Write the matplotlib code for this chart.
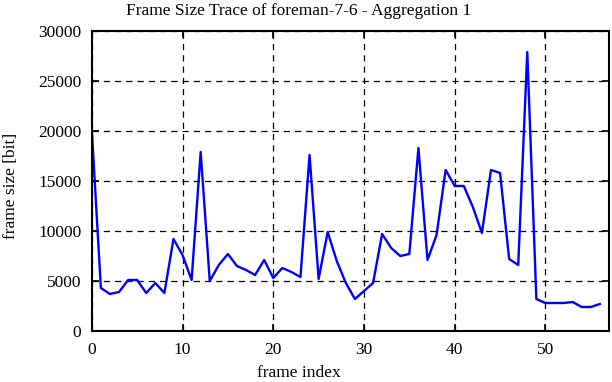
import matplotlib
matplotlib.use("Agg")
import matplotlib.pyplot as plt

frame_index = list(range(57))
frame_size = [20100, 4300, 3700, 3900, 5100, 5100, 3800, 4800, 3800, 9200,
              7600, 5100, 17900, 5000, 6600, 7700, 6500, 6100, 5600, 7100,
              5300, 6300, 5900, 5400, 17600, 5200, 9900, 7000, 4800, 3200,
              4000, 4800, 9700, 8300, 7500, 7700, 18300, 7100, 9600, 16100,
              14500, 14500, 12400, 9800, 16100, 15800, 7200, 6600, 27900, 3200,
              2800, 2800, 2800, 2900, 2400, 2400, 2700]

title = "Frame Size Trace of foreman-7-6 - Aggregation 1"
xlabel = "frame index"
ylabel = "frame size [bit]"
xticks = [0, 10, 20, 30, 40, 50]
yticks = [0, 5000, 10000, 15000, 20000, 25000, 30000]

plt.rcParams['font.family'] = ['Liberation Serif', 'DejaVu Serif']

fig = plt.figure(figsize=(6.12, 3.82), dpi=100)
ax = fig.add_axes([0.150, 0.1335, 0.845, 0.7855])
ax.plot(frame_index, frame_size, color='#0000ff', linewidth=1.7)
ax.set_xlim(0, 57)
ax.set_ylim(0, 30000)
ax.set_xticks(xticks)
ax.set_yticks(yticks)
ax.grid(True, color='black', linestyle=(0, (5, 4)), linewidth=0.9)
ax.tick_params(direction='in', length=5, width=1.2, top=True, right=True,
               labelsize=12.5)
ax.tick_params(axis='x', pad=8)
ax.tick_params(axis='y', pad=7.5)
for s in ax.spines.values():
    s.set_linewidth(1.5)
fig.text(0.4886, 0.012, xlabel, fontsize=12.5, ha='center', va='baseline')
fig.text(0.018, 0.513, ylabel, fontsize=12.5, ha='center', va='center',
         rotation=90)
fig.text(0.4886, 0.962, title, fontsize=12.5, ha='center', va='baseline')
fig.savefig("out.png", dpi=100)
